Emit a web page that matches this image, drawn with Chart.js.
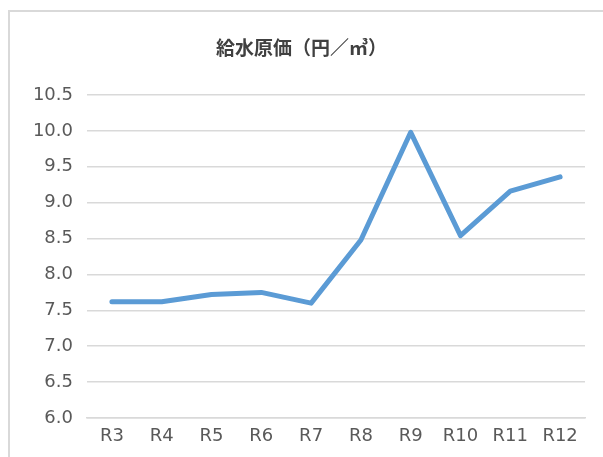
<!DOCTYPE html>
<html>
<head>
<meta charset="utf-8">
<script src="https://cdn.jsdelivr.net/npm/chart.js@4"></script>
<style>
  html, body { margin: 0; padding: 0; background: #fff; overflow: hidden; }
  #wrap { position: relative; width: 603px; height: 457px; }
  #frame { position: absolute; left: 8px; top: 10px; width: 700px; height: 600px; border: 2px solid #d9d9d9; box-sizing: border-box; }
  canvas { position: absolute; left: 0; top: 0; }
</style>
</head>
<body>
<div id="wrap">
  <div id="frame"></div>
  <canvas id="costChart" width="603" height="457"></canvas>
</div>
<script>
// 年度
const years = ['R3', 'R4', 'R5', 'R6', 'R7', 'R8', 'R9', 'R10', 'R11', 'R12'];
// 給水原価（円／㎥）
const unitCost = [7.62, 7.62, 7.72, 7.75, 7.60, 8.48, 9.98, 8.54, 9.16, 9.36];

const chartTitle = '給水原価（円／㎥）';
const yMin = 6.0;
const yMax = 10.5;
const yStep = 0.5;

const tickFont = { family: "'DejaVu Sans', sans-serif", size: 18 };

// タイトルはキャンバス全体の中央に描く
const titlePlugin = {
    id: 'centerTitle',
    afterDraw(chart) {
        const c = chart.ctx;
        c.save();
        c.font = "bold 19px 'Noto Sans CJK JP', sans-serif";
        c.fillStyle = '#404040';
        c.textAlign = 'center';
        c.textBaseline = 'middle';
        c.fillText(chartTitle, chart.width / 2, 48);
        c.restore();
    }
};

new Chart(document.getElementById('costChart'), {
    type: 'line',
    data: {
        labels: years,
        datasets: [{
            label: '給水原価',
            data: unitCost,
            borderColor: '#5b9bd5',
            borderWidth: 5,
            borderCapStyle: 'round',
            borderJoinStyle: 'round',
            pointRadius: 0,
            tension: 0,
            fill: false
        }]
    },
    plugins: [titlePlugin],
    options: {
        responsive: false,
        animation: false,
        layout: { padding: { left: 0, right: 18, top: 95, bottom: 0 } },
        plugins: {
            legend: { display: false },
            tooltip: { enabled: false },
            title: { display: false }
        },
        scales: {
            x: {
                offset: true,
                grid: { display: false, drawTicks: false },
                border: { display: true, color: '#d9d9d9', width: 1.5 },
                ticks: { color: '#595959', font: tickFont, padding: 8, maxRotation: 0, autoSkip: false },
                afterFit: scale => { scale.height = 39; }
            },
            y: {
                min: yMin,
                max: yMax,
                grid: { color: '#d9d9d9', lineWidth: 1.5, drawTicks: false },
                border: { display: false },
                ticks: {
                    stepSize: yStep,
                    color: '#595959',
                    font: tickFont,
                    padding: 14,
                    callback: v => v.toFixed(1)
                },
                afterFit: scale => { scale.width = 87; }
            }
        }
    }
});
</script>
</body>
</html>
